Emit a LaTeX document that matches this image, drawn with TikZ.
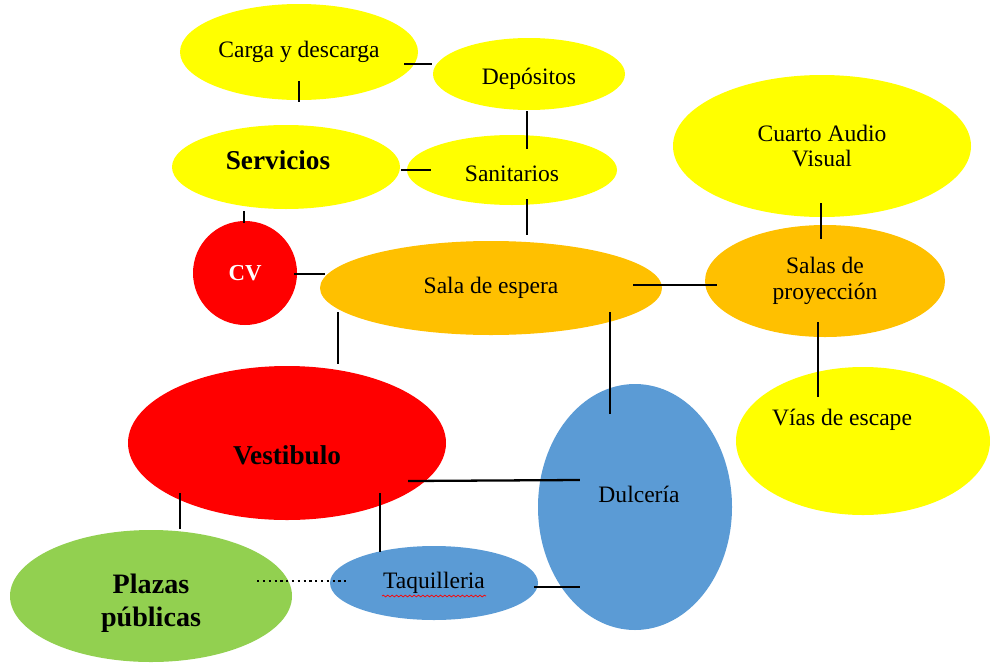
\documentclass[tikz,border=0pt]{standalone}
\usepackage{fontspec}
\setmainfont{Liberation Serif}
\usepackage{tikz}
\usetikzlibrary{shapes.geometric}
\usetikzlibrary{calc}
\usetikzlibrary{decorations.pathmorphing}

\definecolor{amarillo}{HTML}{FFFF00}
\definecolor{naranja}{HTML}{FFC000}
\definecolor{rojo}{HTML}{FF0000}
\definecolor{azul}{HTML}{5B9BD5}
\definecolor{verde}{HTML}{92D050}

\begin{document}
\begin{tikzpicture}[x=0.02cm, y=-0.02cm, line width=1.3pt,
    every node/.style={font=\fontsize{13.4}{14.5}\selectfont, align=center},
    zona/.style n args={3}{ellipse, fill=#1, inner sep=0pt, minimum width=#2*0.02cm, minimum height=#3*0.02cm},
    fuerte/.style={font=\fontsize{15.5}{18.5}\selectfont\bfseries}]

\useasboundingbox (0,0) rectangle (990,663);

% Servicios
\node[zona={amarillo}{238}{96}] (carga) at (299,52) {Carga y descarga};
\node[zona={amarillo}{192}{72}, label={[yshift=-5*0.02cm]center:Depósitos}] (dep) at (529,74) {};
\node[zona={amarillo}{228}{84}, label={[fuerte, xshift=-8*0.02cm, yshift=7*0.02cm]center:Servicios}] (serv) at (286,167) {};
\node[zona={amarillo}{210}{70}, label={[yshift=-4*0.02cm]center:Sanitarios}] (sani) at (512,170) {};
\node[zona={rojo}{104}{104}, text=white, font=\fontsize{13}{15}\selectfont\bfseries] (cv) at (245,273) {CV};

% Salas
\node[zona={naranja}{342}{94}] (sala) at (491,288) {Sala de espera};
\node[zona={amarillo}{298}{142}] (cuarto) at (822,146) {Cuarto Audio\\Visual};
\node[zona={naranja}{240}{112}] (salas) at (825,281) {Salas de\\proyección};
\node[zona={amarillo}{254}{148}, label={[xshift=-21*0.02cm, yshift=21*0.02cm]center:Vías de escape}] (vias) at (863,441) {};

% Acceso
\node[zona={rojo}{318}{154}, label={[fuerte, yshift=-12*0.02cm]center:Vestibulo}] (vest) at (287,443) {};
\node[zona={azul}{194}{246}, label={[xshift=4*0.02cm, yshift=13*0.02cm]center:Dulcería}] (dulce) at (635,507) {};
\node[zona={azul}{208}{74}] (taq) at (434,583) {Taquilleria};
\node[zona={verde}{282}{132}, label={[align=center, font=\fontsize{16}{19}\selectfont\bfseries, yshift=-7*0.02cm]center:Plazas\\públicas}] (plaza) at (151,596) {};

% Conexiones
\draw ($(carga.east)+(-15,12)$) -- ($(dep.west)+(0,-10)$);
\draw ($(carga.south)+(0,-20)$) -- ($(serv.north)+(13,-22)$);
\draw ($(dep.south)+(-2,0)$) -- ($(sani.north)+(15,15)$);
\draw ($(serv.east)+(0,3)$) -- ($(sani.west)+(25,0)$);
\draw ($(sani.south)+(15,-7)$) -- ($(sala.north)+(36,-5)$);
\draw ($(serv.south)+(-42,1)$) -- ($(cv.north)+(-1,3)$);
\draw ($(cv.east)+(-4,1)$) -- ($(sala.west)+(6,-14)$);
\draw ($(sala.east)+(-30,-3)$) -- ($(salas.west)+(13,4)$);
\draw ($(cuarto.south)+(-1,-15)$) -- ($(salas.north)+(-4,15)$);
\draw ($(salas.south)+(-7,-16)$) -- ($(vias.north)+(-45,31)$);
\draw ($(sala.south)+(-153,-24)$) -- ($(vest.north)+(51,-1)$);
\draw ($(sala.south)+(119,-24)$) -- ($(dulce.north)+(-25,31)$);
\draw ($(vest.east)+(-39,38)$) -- ($(dulce.west)+(43,-27)$);
\draw ($(vest.south)+(-107,-28)$) -- ($(plaza.north)+(29,0)$);
\draw ($(vest.south)+(93,-28)$) -- ($(taq.north)+(-54,7)$);
\draw[dotted] ($(plaza.east)+(-36,-15)$) -- ($(taq.west)+(20,-2)$);
\draw ($(taq.east)+(-5,4)$) -- ($(dulce.west)+(43,80)$);

% subrayado de ortografia
\draw[rojo, line width=0.4pt, decorate, decoration={snake, amplitude=0.5pt, segment length=2.5pt}]
    ($(taq.center)+(-52,13)$) -- ($(taq.center)+(52,13)$);

\end{tikzpicture}
\end{document}
